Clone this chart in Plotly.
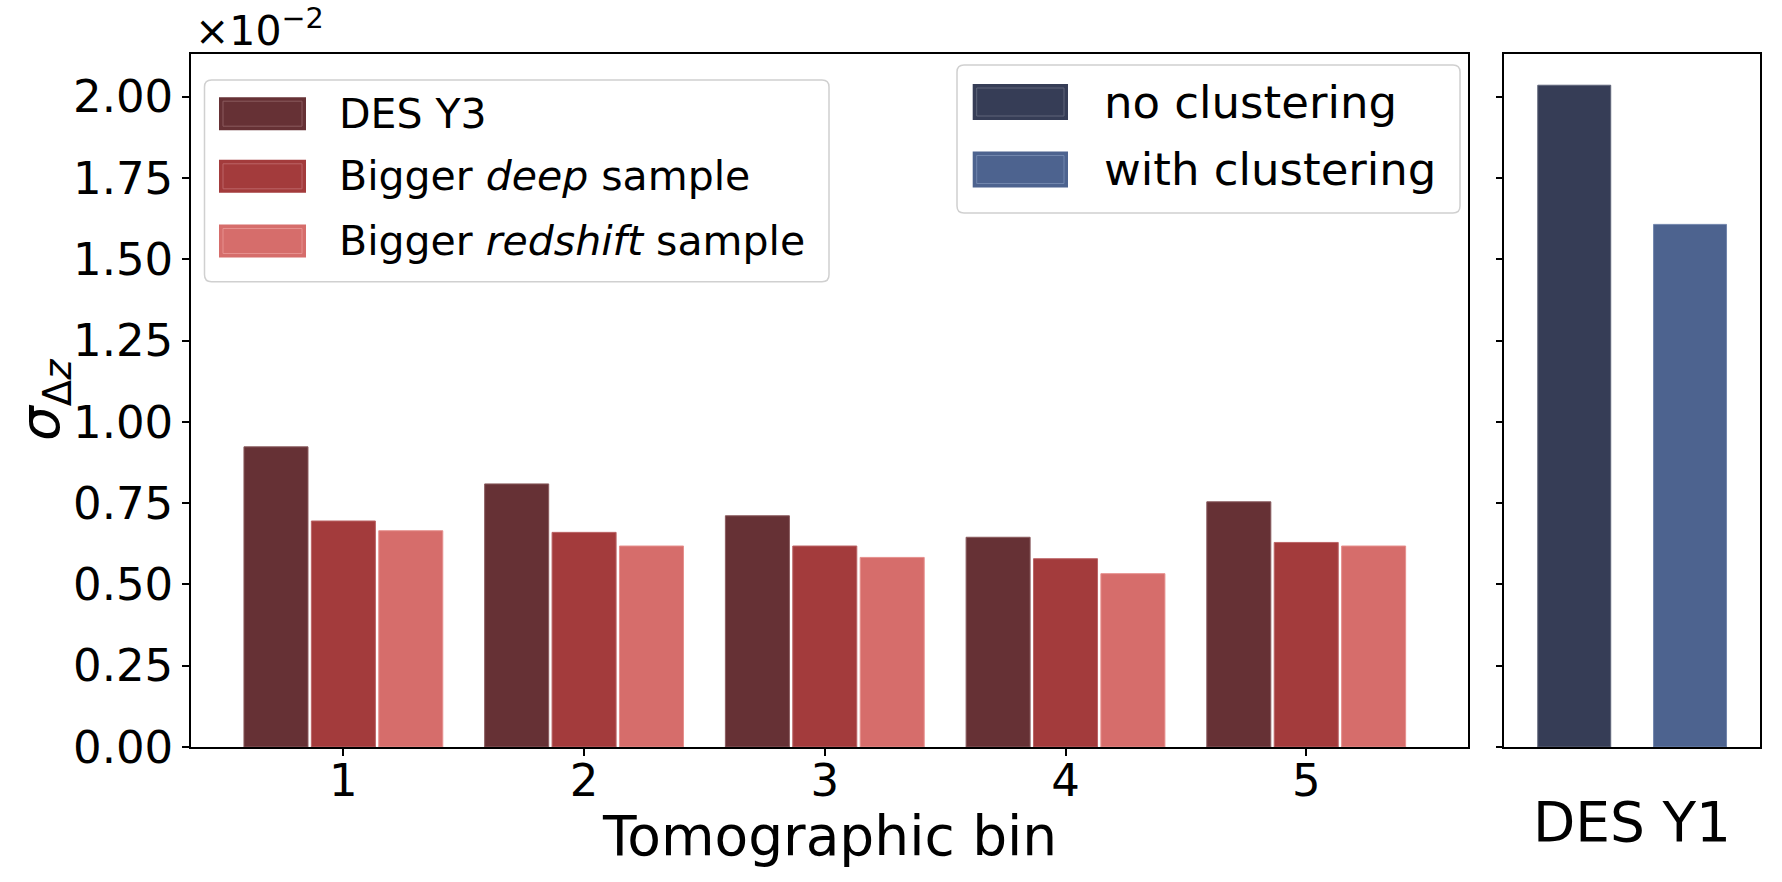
import plotly.graph_objects as go

# ---------------- data (values in units of 10^-2) ----------------
bins = [1, 2, 3, 4, 5]
series_names = ["DES Y3", "Bigger <i>deep</i> sample", "Bigger <i>redshift</i> sample"]
des_y3 = [0.923, 0.809, 0.711, 0.645, 0.754]
bigger_deep = [0.695, 0.660, 0.618, 0.579, 0.629]
bigger_redshift = [0.665, 0.618, 0.583, 0.533, 0.618]

y1_names = ["no clustering", "with clustering"]
y1_values = [2.035, 1.607]

y_ticks = [0.0, 0.25, 0.5, 0.75, 1.0, 1.25, 1.5, 1.75, 2.0]

# ---------------- style ----------------
W, H = 1782, 882
FONT = "DejaVu Sans"
red_colors = ["#663135", "#a33b3c", "#d66d6b"]
red_edges = ["#8a5b5e", "#bb6466", "#e6908e"]
blue_colors = ["#363d56", "#4d638f"]
blue_edges = ["#5e6579", "#7186ad"]


def px(x):
    return x / W


def py(y):
    return 1 - y / H


fig = go.Figure()

for name, vals, col, edge in zip(series_names, [des_y3, bigger_deep, bigger_redshift], red_colors, red_edges):
    fig.add_trace(go.Bar(
        x=bins, y=vals, name=name, showlegend=False,
        marker=dict(color=col, line=dict(color=edge, width=1)),
        xaxis="x", yaxis="y",
    ))

fig.add_trace(go.Bar(
    x=y1_names, y=y1_values, showlegend=False, width=0.63,
    marker=dict(color=blue_colors, line=dict(color=blue_edges, width=1)),
    xaxis="x2", yaxis="y2",
))

axis_common = dict(showline=True, mirror=True, linecolor="black", linewidth=1.5,
                   ticks="outside", ticklen=7, tickwidth=1.5, tickcolor="black",
                   showgrid=False, zeroline=False, automargin=False)

ymax = 2.131
fig.update_layout(
    width=W, height=H, autosize=False,
    margin=dict(l=0, r=0, t=0, b=0, pad=0),
    paper_bgcolor="white", plot_bgcolor="white",
    font=dict(family=FONT, color="black"),
    showlegend=False,
    barmode="group", bargap=0.16, bargroupgap=0.05,
    xaxis=dict(domain=[px(191), px(1467.5)], range=[0.367, 5.670], tickvals=bins,
               tickfont=dict(size=45), ticklabelstandoff=-14, anchor="y", **axis_common),
    yaxis=dict(domain=[py(747), py(54)], range=[0, ymax], tickvals=y_ticks,
               tickformat=".2f", tickfont=dict(size=45), anchor="x", **axis_common),
    xaxis2=dict(domain=[px(1504.3), px(1760)], range=[-0.604, 1.604], type="category",
                showticklabels=False, anchor="y2",
                **{**axis_common, "ticks": ""}),
    yaxis2=dict(domain=[py(747), py(54)], range=[0, ymax], tickvals=y_ticks,
                showticklabels=False, anchor="x2", **axis_common),
)

ann = []
# offset text
ann.append(dict(text="×10<sup>−2</sup>", x=px(193), y=py(28), xref="paper", yref="paper",
                xanchor="left", yanchor="middle", showarrow=False, font=dict(size=41)))
# axis titles
ann.append(dict(text="Tomographic bin", x=px(829), y=py(836), xref="paper", yref="paper",
                xanchor="center", yanchor="middle", showarrow=False, font=dict(size=55)))
ann.append(dict(text="DES Y1", x=px(1632), y=py(822), xref="paper", yref="paper",
                xanchor="center", yanchor="middle", showarrow=False, font=dict(size=55)))
ann.append(dict(text="<i>σ</i><sub>Δ<i>z</i></sub>", x=px(44), y=py(400), xref="paper", yref="paper",
                xanchor="center", yanchor="middle", showarrow=False, textangle=-90,
                font=dict(size=55)))

shapes = []


def rounded_box(x0, y0, x1, y1, r=7):
    # pixel coordinates -> paper path with rounded corners
    pts = [
        f"M {px(x0 + r)},{py(y0)}",
        f"L {px(x1 - r)},{py(y0)}",
        f"Q {px(x1)},{py(y0)} {px(x1)},{py(y0 + r)}",
        f"L {px(x1)},{py(y1 - r)}",
        f"Q {px(x1)},{py(y1)} {px(x1 - r)},{py(y1)}",
        f"L {px(x0 + r)},{py(y1)}",
        f"Q {px(x0)},{py(y1)} {px(x0)},{py(y1 - r)}",
        f"L {px(x0)},{py(y0 + r)}",
        f"Q {px(x0)},{py(y0)} {px(x0 + r)},{py(y0)}",
        "Z",
    ]
    return dict(type="path", path=" ".join(pts), xref="paper", yref="paper",
                fillcolor="rgba(255,255,255,0.85)", line=dict(color="#d0d0d0", width=1.5), layer="above")


def legend(box, patch_x, rows, patch_h, text_x, names, colors, edges, size):
    shapes.append(rounded_box(*box))
    for yc, name, col, edge in zip(rows, names, colors, edges):
        shapes.append(dict(type="rect", xref="paper", yref="paper",
                           x0=px(patch_x[0]), x1=px(patch_x[1]),
                           y0=py(yc + patch_h / 2), y1=py(yc - patch_h / 2),
                           fillcolor=col, line=dict(width=0), layer="above"))
        shapes.append(dict(type="rect", xref="paper", yref="paper",
                           x0=px(patch_x[0] + 4), x1=px(patch_x[1] - 4),
                           y0=py(yc + patch_h / 2 - 4), y1=py(yc - patch_h / 2 + 4),
                           fillcolor="rgba(0,0,0,0)", line=dict(color=edge, width=1), layer="above"))
        ann.append(dict(text=name, x=px(text_x), y=py(yc), xref="paper", yref="paper",
                        xanchor="left", yanchor="middle", showarrow=False, font=dict(size=size)))


legend((204.5, 80, 829, 281.7), (219, 306), [113.7, 176.3, 241], 33, 337,
       series_names, red_colors, red_edges, 41)
legend((957, 65, 1460, 213), (972.7, 1068), [102, 169.5], 36, 1102,
       y1_names, blue_colors, blue_edges, 45)

fig.update_layout(annotations=ann, shapes=shapes)
fig.write_html("out.html")
